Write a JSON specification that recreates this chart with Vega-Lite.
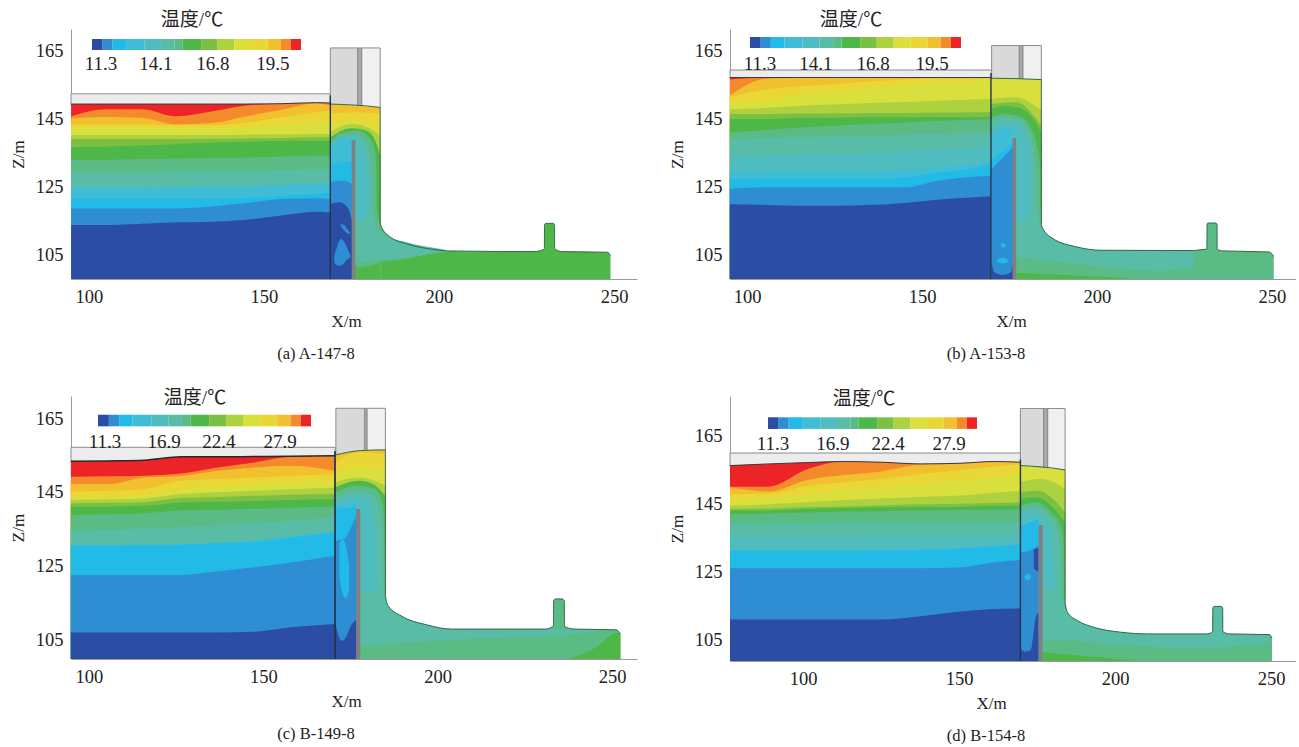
{"$schema":"https://vega.github.io/schema/vega-lite/v6.json","background":"white","padding":{"left":9,"top":10,"right":0,"bottom":0},
"config":{"view":{"stroke":null},"range":{"category":["#2b4da4","#2f8ed3","#22bbe8","#3fbcd6","#4fbcc0","#58bca6","#5abb85","#4db748","#7cc043","#aed140","#d9df3c","#e9d735","#f2bf2e","#f58a2c","#ec2327"]},"axis":{"grid":false,"ticks":false,"domainColor":"#9a9a9a","labelFont":"Liberation Serif","labelFontSize":18.5,"labelColor":"#222222","titleFont":"Liberation Serif","titleFontWeight":"normal","titleFontSize":17,"titleColor":"#222222","labelPadding":8,"titlePadding":8,"labelFlush":false,"labelOverlap":false},"title":{"font":"Liberation Serif","fontSize":16.5,"fontWeight":"normal","color":"#222222"},"text":{"font":"Liberation Serif, Noto Sans CJK SC","fontSize":19,"color":"#222222","dy":1.5},"line":{"strokeWidth":1}},
"datasets":{
"ga":[{"g":"bar","x":94.86,"x2":169,"z":149,"z2":152.4},{"g":"dark","x":168.95,"x2":176.8,"z":148.7,"z2":165.9},{"g":"light","x":177.9,"x2":183.2,"z":148.2,"z2":165.9},{"g":"strip","x":176.8,"x2":177.9,"z":148.5,"z2":165.9}],
"pa":[{"g":"pier","x":175.05,"x2":176.1,"z":97.94,"z2":138.8},{"g":"wall","x":168.75,"x2":169.15,"z":97.94,"z2":152}],
"ca":[{"l":"t01","x":100.86,"x2":103.9,"z":165.29,"z2":168.53},{"l":"t02","x":103.9,"x2":106.77,"z":165.29,"z2":168.53},{"l":"t03","x":106.77,"x2":110.59,"z":165.29,"z2":168.53},{"l":"t04","x":110.59,"x2":115.79,"z":165.29,"z2":168.53},{"l":"t05","x":115.79,"x2":120.56,"z":165.29,"z2":168.53},{"l":"t06","x":120.56,"x2":124.39,"z":165.29,"z2":168.53},{"l":"t07","x":124.39,"x2":126.77,"z":165.29,"z2":168.53},{"l":"t08","x":126.77,"x2":132.03,"z":165.29,"z2":168.53},{"l":"t09","x":132.03,"x2":136.75,"z":165.29,"z2":168.53},{"l":"t10","x":136.75,"x2":141.52,"z":165.29,"z2":168.53},{"l":"t11","x":141.52,"x2":146.3,"z":165.29,"z2":168.53},{"l":"t12","x":146.3,"x2":151.08,"z":165.29,"z2":168.53},{"l":"t13","x":151.08,"x2":154.84,"z":165.29,"z2":168.53},{"l":"t14","x":154.84,"x2":157.7,"z":165.29,"z2":168.53},{"l":"t15","x":157.7,"x2":160.57,"z":165.29,"z2":168.53}],
"la":[{"t":"11.3","x":103.43,"z":161.76},{"t":"14.1","x":119.14,"z":161.76},{"t":"16.8","x":135.43,"z":161.76},{"t":"19.5","x":152.57,"z":161.76},{"t":"温度/℃","x":129.43,"z":174.7}],
"ra":[
{"x":94.9,"t15":149.4,"t14":145.8,"t13":145.2,"t12":143.4,"t11":142.5,"t10":140.3,"t09":139.1,"t08":136.7,"t07":133,"t06":129.3,"t05":125.4,"t04":124.4,"t03":121.5,"t02":118.7,"t01":113.8},
{"x":105,"t15":149.4,"t14":147.9,"t13":145.6,"t12":143.4,"t11":142.5,"t10":140.3,"t09":139.1,"t08":136.9,"t07":133,"t06":129.3,"t05":125.4,"t04":124.4,"t03":121.5,"t02":118.7,"t01":113.8},
{"x":115,"t15":149.4,"t14":147.9,"t13":145.4,"t12":143.4,"t11":142.5,"t10":140.3,"t09":139.1,"t08":137.2,"t07":133.2,"t06":129.3,"t05":125.4,"t04":124.4,"t03":121.5,"t02":118.7,"t01":114.2},
{"x":125,"t15":149.4,"t14":145.8,"t13":143.4,"t12":143.2,"t11":142.5,"t10":140.3,"t09":139.1,"t08":137.6,"t07":133.4,"t06":129.4,"t05":125.5,"t04":124.5,"t03":121.5,"t02":118.7,"t01":114.6},
{"x":135,"t15":149.4,"t14":147.2,"t13":143.8,"t12":143.2,"t11":142.5,"t10":140.3,"t09":139.2,"t08":138.1,"t07":133.5,"t06":129.5,"t05":125.6,"t04":124.6,"t03":121.5,"t02":119.3,"t01":114.8},
{"x":145,"t15":149.4,"t14":149,"t13":145.8,"t12":144,"t11":142.5,"t10":140.4,"t09":139.3,"t08":138.3,"t07":133.7,"t06":129.7,"t05":125.7,"t04":124.8,"t03":121.7,"t02":120.3,"t01":115.4},
{"x":155,"t15":149.5,"t14":149.5,"t13":147.7,"t12":145.5,"t11":143,"t10":140.5,"t09":139.4,"t08":138.6,"t07":134,"t06":130,"t05":125.9,"t04":125.2,"t03":122.3,"t02":121.5,"t01":116.6},
{"x":165,"t15":149.8,"t14":149.8,"t13":149.6,"t12":147,"t11":143.8,"t10":140.6,"t09":139.6,"t08":138.6,"t07":134.2,"t06":130.2,"t05":126.1,"t04":125.7,"t03":123,"t02":121.7,"t01":117.7},
{"x":169,"t15":149.7,"t14":149.7,"t13":148.9,"t12":147.5,"t11":144,"t10":140.6,"t09":139.6,"t08":138.6,"t07":134.2,"t06":130.3,"t05":126.2,"t04":125.9,"t03":123.4,"t02":121.5,"t01":117.5}],
"ta":[
{"r":1,"l":"t13","x":168.95,"z":149.4,"z2":97.95},{"r":1,"l":"t13","x":183.2,"z":148.4,"z2":97.95},
{"r":2,"l":"t12","x":168.95,"z":146.5,"z2":97.95},{"r":2,"l":"t12","x":175.8,"z":147,"z2":97.95},{"r":2,"l":"t12","x":183.2,"z":146.5,"z2":97.95},
{"r":3,"l":"t11","x":168.95,"z":143.5,"z2":97.95},{"r":3,"l":"t11","x":175.8,"z":144.5,"z2":97.95},{"r":3,"l":"t11","x":183.2,"z":141.6,"z2":97.95},
{"r":4,"l":"t10","x":168.95,"z":141.1,"z2":97.95},{"r":4,"l":"t10","x":175,"z":143.5,"z2":97.95},{"r":4,"l":"t10","x":179.6,"z":142.5,"z2":97.95},{"r":4,"l":"t10","x":183.2,"z":140.1,"z2":97.95},
{"r":5,"l":"t08","x":168.95,"z":139.6,"z2":97.95},{"r":5,"l":"t08","x":175,"z":142.3,"z2":97.95},{"r":5,"l":"t08","x":179.2,"z":141.6,"z2":97.95},{"r":5,"l":"t08","x":182,"z":138.1,"z2":97.95},{"r":5,"l":"t08","x":183.2,"z":134.2,"z2":97.95},
{"r":6,"l":"t08","x":183.2,"z":115.1,"z2":97.95},{"r":6,"l":"t08","x":183.4,"z":113.6,"z2":97.95},{"r":6,"l":"t08","x":185.8,"z":110.5,"z2":97.95},{"r":6,"l":"t08","x":191,"z":108.2,"z2":97.95},{"r":6,"l":"t08","x":198.7,"z":106.6,"z2":97.95},{"r":6,"l":"t08","x":202.5,"z":106.2,"z2":97.95},{"r":6,"l":"t08","x":227.2,"z":106,"z2":97.95},{"r":6,"l":"t08","x":229.9,"z":106.6,"z2":97.95},{"r":6,"l":"t08","x":230.1,"z":106.8,"z2":97.95},{"r":6,"l":"t08","x":230.15,"z":114,"z2":97.95},{"r":6,"l":"t08","x":230.6,"z":114.3,"z2":97.95},{"r":6,"l":"t08","x":232.6,"z":114.3,"z2":97.95},{"r":6,"l":"t08","x":233,"z":114,"z2":97.95},{"r":6,"l":"t08","x":233.05,"z":106.8,"z2":97.95},{"r":6,"l":"t08","x":235.3,"z":106,"z2":97.95},{"r":6,"l":"t08","x":248.2,"z":105.8,"z2":97.95},{"r":6,"l":"t08","x":249,"z":104.8,"z2":97.95},
{"r":7,"l":"t07","x":168.95,"z":138.6,"z2":101.4},{"r":7,"l":"t07","x":172.5,"z":141.1,"z2":101.4},{"r":7,"l":"t07","x":176.8,"z":141.6,"z2":101.4},{"r":7,"l":"t07","x":179.6,"z":140.1,"z2":101.8},{"r":7,"l":"t07","x":181.7,"z":135.7,"z2":102.2},{"r":7,"l":"t07","x":182.1,"z":130.3,"z2":102.4},{"r":7,"l":"t07","x":182.3,"z":118.5,"z2":102.5},{"r":7,"l":"t07","x":183.2,"z":114.1,"z2":102.8},{"r":7,"l":"t07","x":185.8,"z":110.5,"z2":103.2},{"r":7,"l":"t07","x":191,"z":108.2,"z2":104},{"r":7,"l":"t07","x":198.7,"z":106.6,"z2":105.5},{"r":7,"l":"t07","x":203.4,"z":106.1,"z2":106},
{"r":8,"l":"t06","x":168.95,"z":137.6,"z2":102.8},{"r":8,"l":"t06","x":172.5,"z":140.3,"z2":102.8},{"r":8,"l":"t06","x":176.3,"z":140.6,"z2":102.8},{"r":8,"l":"t06","x":178.7,"z":139.1,"z2":102.9},{"r":8,"l":"t06","x":180.1,"z":135.2,"z2":103},{"r":8,"l":"t06","x":180.9,"z":129.3,"z2":103.1},{"r":8,"l":"t06","x":181.1,"z":120.5,"z2":103.1},{"r":8,"l":"t06","x":182,"z":113.6,"z2":103.2},{"r":8,"l":"t06","x":184.4,"z":110.7,"z2":103.5},{"r":8,"l":"t06","x":191,"z":108.7,"z2":104.3},{"r":8,"l":"t06","x":201.5,"z":106.6,"z2":106.4},
{"r":9,"l":"t05","x":168.95,"z":137.2,"z2":97.95},{"r":9,"l":"t05","x":172.5,"z":139.6,"z2":97.95},{"r":9,"l":"t05","x":175.8,"z":139.9,"z2":97.95},{"r":9,"l":"t05","x":176.2,"z":139.9,"z2":115},{"r":9,"l":"t05","x":177.7,"z":138.1,"z2":115},{"r":9,"l":"t05","x":179.1,"z":134.2,"z2":116},{"r":9,"l":"t05","x":180.1,"z":127.4,"z2":118},{"r":9,"l":"t05","x":180.3,"z":121.5,"z2":120},
{"r":10,"l":"t04","x":168.95,"z":136.7,"z2":97.95},{"r":10,"l":"t04","x":172.5,"z":139.1,"z2":97.95},{"r":10,"l":"t04","x":175.8,"z":138.6,"z2":97.95},
{"r":11,"l":"t03","x":168.95,"z":131.3,"z2":97.95},{"r":11,"l":"t03","x":175.8,"z":132.8,"z2":97.95},
{"r":12,"l":"t02","x":168.95,"z":126.4,"z2":97.95},{"r":12,"l":"t02","x":172.5,"z":126.9,"z2":97.95},{"r":12,"l":"t02","x":175.8,"z":125.4,"z2":97.95},
{"r":13,"l":"t01","x":168.95,"z":120,"z2":97.95},{"r":13,"l":"t01","x":171.5,"z":120.5,"z2":97.95},{"r":13,"l":"t01","x":173.9,"z":119,"z2":97.95},{"r":13,"l":"t01","x":175,"z":115.6,"z2":97.95},{"r":13,"l":"t01","x":175.8,"z":112,"z2":97.95},
{"r":14,"l":"t02","x":171.8,"z":114.1,"z2":113.9},{"r":14,"l":"t02","x":172.8,"z":113.9,"z2":112.3},{"r":14,"l":"t02","x":173.8,"z":112.6,"z2":111.4},{"r":14,"l":"t02","x":174.6,"z":111.6,"z2":111.2},
{"r":15,"l":"t02","x":170.1,"z":104.8,"z2":102.8},{"r":15,"l":"t02","x":171,"z":107.7,"z2":101.9},{"r":15,"l":"t02","x":172,"z":109.7,"z2":101.9},{"r":15,"l":"t02","x":173,"z":108.7,"z2":102.8},{"r":15,"l":"t02","x":173.9,"z":106.8,"z2":103.8},{"r":15,"l":"t02","x":174.7,"z":104.8,"z2":104.3}],
"gb":[{"g":"bar","x":95.14,"x2":170,"z":157,"z2":159.4},{"g":"dark","x":169.9,"x2":177.8,"z":156.6,"z2":166.6},{"g":"light","x":178.8,"x2":184.1,"z":156.4,"z2":166.6},{"g":"strip","x":177.8,"x2":178.8,"z":156.5,"z2":166.6}],
"pb":[{"g":"pier","x":175.9,"x2":176.9,"z":97.94,"z2":139.4},{"g":"wall","x":169.5,"x2":169.9,"z":97.94,"z2":158.5}],
"cb":[{"l":"t01","x":100.85,"x2":103.92,"z":165.88,"z2":169.12},{"l":"t02","x":103.92,"x2":106.82,"z":165.88,"z2":169.12},{"l":"t03","x":106.82,"x2":110.68,"z":165.88,"z2":169.12},{"l":"t04","x":110.68,"x2":115.92,"z":165.88,"z2":169.12},{"l":"t05","x":115.92,"x2":120.74,"z":165.88,"z2":169.12},{"l":"t06","x":120.74,"x2":124.6,"z":165.88,"z2":169.12},{"l":"t07","x":124.6,"x2":127.02,"z":165.88,"z2":169.12},{"l":"t08","x":127.02,"x2":132.32,"z":165.88,"z2":169.12},{"l":"t09","x":132.32,"x2":137.08,"z":165.88,"z2":169.12},{"l":"t10","x":137.08,"x2":141.91,"z":165.88,"z2":169.12},{"l":"t11","x":141.91,"x2":146.73,"z":165.88,"z2":169.12},{"l":"t12","x":146.73,"x2":151.55,"z":165.88,"z2":169.12},{"l":"t13","x":151.55,"x2":155.35,"z":165.88,"z2":169.12},{"l":"t14","x":155.35,"x2":158.25,"z":165.88,"z2":169.12},{"l":"t15","x":158.25,"x2":161.14,"z":165.88,"z2":169.12}],
"lb":[{"t":"11.3","x":103.71,"z":161.76},{"t":"14.1","x":119.71,"z":161.76},{"t":"16.8","x":136,"z":161.76},{"t":"19.5","x":152.86,"z":161.76},{"t":"温度/℃","x":129.71,"z":174.7}],
"rb":[
{"x":95.1,"t15":157.2,"t14":156.6,"t13":151.9,"t12":151.4,"t11":149.9,"t10":147.9,"t09":146.5,"t08":145,"t07":141.1,"t06":139.1,"t05":134.2,"t04":129.3,"t03":127.4,"t02":124.4,"t01":119.9},
{"x":105,"t15":157.2,"t14":157.2,"t13":156.8,"t12":153.6,"t11":150.4,"t10":148.2,"t09":146.5,"t08":145,"t07":141.8,"t06":139.4,"t05":134.4,"t04":129.4,"t03":127.4,"t02":124.9,"t01":119.7},
{"x":115,"t15":157.2,"t14":157.2,"t13":157.2,"t12":154.6,"t11":151.9,"t10":148.9,"t09":146.6,"t08":145.4,"t07":142.5,"t06":139.6,"t05":134.6,"t04":129.5,"t03":127.4,"t02":124.9,"t01":119.5},
{"x":125,"t15":157.2,"t14":157.2,"t13":157.2,"t12":155.3,"t11":153,"t10":149.3,"t09":146.7,"t08":145.4,"t07":143,"t06":139.9,"t05":134.8,"t04":129.6,"t03":127.4,"t02":124.9,"t01":119.5},
{"x":135,"t15":157.2,"t14":157.2,"t13":157.2,"t12":156,"t11":154,"t10":149.7,"t09":146.8,"t08":145.5,"t07":143.5,"t06":140.1,"t05":135,"t04":129.7,"t03":127.4,"t02":124.9,"t01":119.7},
{"x":145,"t15":157.2,"t14":157.2,"t13":157.2,"t12":156.6,"t11":155,"t10":150,"t09":146.8,"t08":145.5,"t07":144,"t06":140.4,"t05":135.4,"t04":130,"t03":127.8,"t02":124.9,"t01":120.3},
{"x":155,"t15":157.2,"t14":157.2,"t13":157.2,"t12":157.1,"t11":155.8,"t10":150.4,"t09":146.9,"t08":145.5,"t07":144.5,"t06":140.7,"t05":136,"t04":130.8,"t03":129.3,"t02":126.9,"t01":121.3},
{"x":165,"t15":157.2,"t14":157.2,"t13":157.2,"t12":157.2,"t11":156.1,"t10":150.7,"t09":147,"t08":145.5,"t07":144.8,"t06":141,"t05":136.8,"t04":131.8,"t03":130.5,"t02":128,"t01":122},
{"x":169.7,"t15":157.2,"t14":157.2,"t13":157.2,"t12":157.2,"t11":156.3,"t10":150.9,"t09":147,"t08":145.5,"t07":145,"t06":141.1,"t05":137.2,"t04":132.3,"t03":131.8,"t02":128.3,"t01":122.3}],
"tb":[
{"r":1,"l":"t11","x":169.71,"z":157,"z2":97.95},{"r":1,"l":"t11","x":184.09,"z":156.6,"z2":97.95},
{"r":2,"l":"t10","x":169.71,"z":150.9,"z2":97.95},{"r":2,"l":"t10","x":176.85,"z":151.4,"z2":97.95},{"r":2,"l":"t10","x":184.09,"z":147.5,"z2":97.95},
{"r":3,"l":"t09","x":169.71,"z":149.4,"z2":97.95},{"r":3,"l":"t09","x":176.85,"z":149.9,"z2":97.95},{"r":3,"l":"t09","x":184.09,"z":143,"z2":97.95},
{"r":4,"l":"t08","x":169.71,"z":147.9,"z2":97.95},{"r":4,"l":"t08","x":173.5,"z":148.9,"z2":97.95},{"r":4,"l":"t08","x":177.3,"z":148.4,"z2":97.95},{"r":4,"l":"t08","x":181.1,"z":146,"z2":97.95},{"r":4,"l":"t08","x":184.09,"z":141.1,"z2":97.95},
{"r":5,"l":"t07","x":169.71,"z":145.5,"z2":97.95},{"r":5,"l":"t07","x":173.5,"z":146.5,"z2":97.95},{"r":5,"l":"t07","x":177.3,"z":146,"z2":97.95},{"r":5,"l":"t07","x":180.7,"z":143,"z2":97.95},{"r":5,"l":"t07","x":182.6,"z":138.1,"z2":97.95},{"r":5,"l":"t07","x":183.8,"z":130.3,"z2":97.95},{"r":5,"l":"t07","x":183.85,"z":119.5,"z2":97.95},{"r":5,"l":"t07","x":184.1,"z":115.1,"z2":97.95},{"r":5,"l":"t07","x":184.15,"z":113.6,"z2":97.95},{"r":5,"l":"t07","x":186.85,"z":110.2,"z2":97.95},{"r":5,"l":"t07","x":194.5,"z":107.3,"z2":97.95},{"r":5,"l":"t07","x":201.1,"z":106.4,"z2":97.95},{"r":5,"l":"t07","x":227.8,"z":106.3,"z2":97.95},{"r":5,"l":"t07","x":229.9,"z":106.6,"z2":97.95},{"r":5,"l":"t07","x":231.4,"z":106.7,"z2":97.95},{"r":5,"l":"t07","x":231.45,"z":114.2,"z2":97.95},{"r":5,"l":"t07","x":231.8,"z":114.4,"z2":97.95},{"r":5,"l":"t07","x":234,"z":114.4,"z2":97.95},{"r":5,"l":"t07","x":234.3,"z":113.9,"z2":97.95},{"r":5,"l":"t07","x":234.35,"z":106.7,"z2":97.95},{"r":5,"l":"t07","x":235.9,"z":106.2,"z2":97.95},{"r":5,"l":"t07","x":249.2,"z":105.9,"z2":97.95},{"r":5,"l":"t07","x":250.5,"z":104.6,"z2":97.95},
{"r":6,"l":"t08","x":176.9,"z":99.8,"z2":97.95},{"r":6,"l":"t08","x":208.8,"z":98.2,"z2":97.95},
{"r":7,"l":"t06","x":169.71,"z":144,"z2":104.3},{"r":7,"l":"t06","x":173.5,"z":145.5,"z2":104.3},{"r":7,"l":"t06","x":177.3,"z":145,"z2":104.3},{"r":7,"l":"t06","x":180.2,"z":142.1,"z2":104},{"r":7,"l":"t06","x":181.6,"z":137.2,"z2":103.9},{"r":7,"l":"t06","x":182.6,"z":129.3,"z2":103.8},{"r":7,"l":"t06","x":182.85,"z":118.5,"z2":103.8},{"r":7,"l":"t06","x":184,"z":113.6,"z2":103.7},{"r":7,"l":"t06","x":186.85,"z":110.2,"z2":103.3},{"r":7,"l":"t06","x":194.5,"z":107.3,"z2":102.4},{"r":7,"l":"t06","x":201.1,"z":106.4,"z2":101.4},{"r":7,"l":"t06","x":218.3,"z":106.3,"z2":100.4},{"r":7,"l":"t06","x":227.8,"z":106.3,"z2":101.4},
{"r":8,"l":"t05","x":169.71,"z":142.1,"z2":97.95},{"r":8,"l":"t05","x":173.5,"z":144,"z2":97.95},{"r":8,"l":"t05","x":176.8,"z":143.5,"z2":97.95},{"r":8,"l":"t05","x":176.85,"z":143.5,"z2":115},{"r":8,"l":"t05","x":179.2,"z":141.1,"z2":115},{"r":8,"l":"t05","x":180.7,"z":136.2,"z2":116},{"r":8,"l":"t05","x":181.1,"z":130.3,"z2":117},{"r":8,"l":"t05","x":181.3,"z":119.5,"z2":119},
{"r":9,"l":"t04","x":169.71,"z":139.6,"z2":97.95},{"r":9,"l":"t04","x":173.5,"z":142.1,"z2":97.95},{"r":9,"l":"t04","x":176,"z":142.1,"z2":97.95},
{"r":10,"l":"t03","x":169.9,"z":132.8,"z2":97.95},{"r":10,"l":"t03","x":176,"z":138.1,"z2":97.95},
{"r":11,"l":"t02","x":169.9,"z":130.3,"z2":97.95},{"r":11,"l":"t02","x":176,"z":136.7,"z2":97.95},
{"r":12,"l":"t01","x":169.9,"z":102.8,"z2":97.95},{"r":12,"l":"t01","x":170.7,"z":99.9,"z2":97.95},{"r":12,"l":"t01","x":173,"z":99.1,"z2":97.95},{"r":12,"l":"t01","x":175.4,"z":99.9,"z2":97.95},{"r":12,"l":"t01","x":176,"z":102.8,"z2":97.95},
{"r":13,"l":"t03","x":172.5,"z":108.3,"z2":107.8},{"r":13,"l":"t03","x":173.2,"z":108.6,"z2":107.2},{"r":13,"l":"t03","x":174,"z":108,"z2":107.6},
{"r":14,"l":"t03","x":171.4,"z":103.5,"z2":103},{"r":14,"l":"t03","x":173,"z":104.2,"z2":102.5},{"r":14,"l":"t03","x":174.7,"z":103.5,"z2":103}],
"gc":[{"g":"bar","x":94.84,"x2":170.6,"z":153,"z2":157.1},{"g":"dark","x":170.8,"x2":179,"z":155,"z2":167.7},{"g":"light","x":179.7,"x2":185,"z":156,"z2":167.7},{"g":"strip","x":179,"x2":179.7,"z":155.8,"z2":167.7}],
"pc":[{"g":"pier","x":176.6,"x2":177.8,"z":99.57,"z2":140.3},{"g":"wall","x":170.3,"x2":170.8,"z":99.57,"z2":156}],
"cc":[{"l":"t01","x":102.58,"x2":105.7,"z":162.8,"z2":165.95},{"l":"t02","x":105.7,"x2":108.63,"z":162.8,"z2":165.95},{"l":"t03","x":108.63,"x2":112.54,"z":162.8,"z2":165.95},{"l":"t04","x":112.54,"x2":117.85,"z":162.8,"z2":165.95},{"l":"t05","x":117.85,"x2":122.74,"z":162.8,"z2":165.95},{"l":"t06","x":122.74,"x2":126.65,"z":162.8,"z2":165.95},{"l":"t07","x":126.65,"x2":129.09,"z":162.8,"z2":165.95},{"l":"t08","x":129.09,"x2":134.47,"z":162.8,"z2":165.95},{"l":"t09","x":134.47,"x2":139.3,"z":162.8,"z2":165.95},{"l":"t10","x":139.3,"x2":144.18,"z":162.8,"z2":165.95},{"l":"t11","x":144.18,"x2":149.07,"z":162.8,"z2":165.95},{"l":"t12","x":149.07,"x2":153.96,"z":162.8,"z2":165.95},{"l":"t13","x":153.96,"x2":157.8,"z":162.8,"z2":165.95},{"l":"t14","x":157.8,"x2":160.74,"z":162.8,"z2":165.95},{"l":"t15","x":160.74,"x2":163.67,"z":162.8,"z2":165.95}],
"lc":[{"t":"11.3","x":104.59,"z":159.08},{"t":"16.9","x":121.51,"z":159.08},{"t":"22.4","x":137.28,"z":159.08},{"t":"27.9","x":154.78,"z":159.08},{"t":"温度/℃","x":130.4,"z":171.04}],
"rc":[
{"x":94.8,"t15":153.3,"t14":149.1,"t13":147.1,"t12":145.1,"t11":143.5,"t10":142.8,"t09":141.9,"t08":141,"t07":138.8,"t06":134.4,"t05":130.6,"t04":130.5,"t03":130.4,"t02":122.4,"t01":106.8},
{"x":105.4,"t15":153.4,"t14":149.2,"t13":147.1,"t12":145.3,"t11":143.6,"t10":142.9,"t09":142,"t08":141,"t07":138.9,"t06":134.6,"t05":130.6,"t04":130.5,"t03":130.4,"t02":122.4,"t01":106.8},
{"x":115.9,"t15":153.6,"t14":149.4,"t13":148.9,"t12":145.8,"t11":144,"t10":143.2,"t09":142.2,"t08":141.2,"t07":139.2,"t06":135,"t05":130.7,"t04":130.6,"t03":130.5,"t02":122.4,"t01":106.8},
{"x":126.4,"t15":154.5,"t14":150,"t13":149.3,"t12":148,"t11":145.8,"t10":144.4,"t09":143.3,"t08":142.1,"t07":139.9,"t06":135.5,"t05":130.8,"t04":130.7,"t03":130.6,"t02":122.4,"t01":106.8},
{"x":136.9,"t15":154.5,"t14":151.6,"t13":150.7,"t12":148.5,"t11":146.5,"t10":144.9,"t09":143.6,"t08":142.3,"t07":140.1,"t06":136,"t05":131.2,"t04":131.1,"t03":131,"t02":123.4,"t01":106.8},
{"x":147.4,"t15":154.6,"t14":153,"t13":151.6,"t12":148.9,"t11":147.1,"t10":145.3,"t09":143.9,"t08":142.5,"t07":140.4,"t06":136.5,"t05":132,"t04":131.8,"t03":131.3,"t02":124.5,"t01":107},
{"x":157.9,"t15":154.7,"t14":154.5,"t13":152.1,"t12":149.4,"t11":147.5,"t10":145.7,"t09":144.2,"t08":142.8,"t07":140.7,"t06":137.2,"t05":133,"t04":132.8,"t03":132.5,"t02":125.8,"t01":108.2},
{"x":170.6,"t15":154.8,"t14":154.8,"t13":150.7,"t12":149.8,"t11":148,"t10":146.2,"t09":144.4,"t08":143,"t07":141,"t06":138,"t05":134.4,"t04":134.2,"t03":134,"t02":127.6,"t01":109.1}],
"tc":[
{"r":1,"l":"t13","x":170.55,"z":155,"z2":99.6},{"r":1,"l":"t13","x":177.8,"z":156.2,"z2":99.6},{"r":1,"l":"t13","x":185,"z":156.4,"z2":99.6},
{"r":2,"l":"t12","x":170.55,"z":153,"z2":99.6},{"r":2,"l":"t12","x":177.5,"z":155.7,"z2":99.6},{"r":2,"l":"t12","x":185,"z":155.3,"z2":99.6},
{"r":3,"l":"t11","x":170.55,"z":149.8,"z2":99.6},{"r":3,"l":"t11","x":177.5,"z":151.6,"z2":99.6},{"r":3,"l":"t11","x":185,"z":151.2,"z2":99.6},
{"r":4,"l":"t10","x":170.55,"z":147.6,"z2":99.6},{"r":4,"l":"t10","x":177.5,"z":148.9,"z2":99.6},{"r":4,"l":"t10","x":185,"z":146.7,"z2":99.6},
{"r":5,"l":"t08","x":170.55,"z":146.2,"z2":99.6},{"r":5,"l":"t08","x":177.5,"z":148,"z2":99.6},{"r":5,"l":"t08","x":181.4,"z":147.1,"z2":99.6},{"r":5,"l":"t08","x":185,"z":143.9,"z2":99.6},
{"r":6,"l":"t07","x":170.55,"z":144.9,"z2":99.6},{"r":6,"l":"t07","x":177.5,"z":146.7,"z2":99.6},{"r":6,"l":"t07","x":181.8,"z":145.8,"z2":99.6},{"r":6,"l":"t07","x":184.2,"z":142.1,"z2":99.6},{"r":6,"l":"t07","x":184.7,"z":134,"z2":99.6},{"r":6,"l":"t07","x":185,"z":116.8,"z2":99.6},{"r":6,"l":"t07","x":185.8,"z":114,"z2":99.6},{"r":6,"l":"t07","x":189.5,"z":111.3,"z2":99.6},{"r":6,"l":"t07","x":197.1,"z":108.8,"z2":99.6},{"r":6,"l":"t07","x":203.8,"z":107.7,"z2":99.6},{"r":6,"l":"t07","x":230.6,"z":107.7,"z2":99.6},{"r":6,"l":"t07","x":233,"z":108.4,"z2":99.6},{"r":6,"l":"t07","x":233.2,"z":108.6,"z2":99.6},{"r":6,"l":"t07","x":233.25,"z":115.4,"z2":99.6},{"r":6,"l":"t07","x":233.8,"z":115.9,"z2":99.6},{"r":6,"l":"t07","x":235.7,"z":115.9,"z2":99.6},{"r":6,"l":"t07","x":236.3,"z":115.4,"z2":99.6},{"r":6,"l":"t07","x":236.35,"z":108.4,"z2":99.6},{"r":6,"l":"t07","x":239.2,"z":107.7,"z2":99.6},{"r":6,"l":"t07","x":251.1,"z":107.5,"z2":99.6},{"r":6,"l":"t07","x":252.4,"z":106.4,"z2":99.6},
{"r":7,"l":"t08","x":238.2,"z":99.8,"z2":99.6},{"r":7,"l":"t08","x":245,"z":102.5,"z2":99.6},{"r":7,"l":"t08","x":251.6,"z":106.8,"z2":99.6},{"r":7,"l":"t08","x":252.4,"z":106.4,"z2":99.6},
{"r":8,"l":"t06","x":170.55,"z":143.5,"z2":103.2},{"r":8,"l":"t06","x":177,"z":145.3,"z2":103.2},{"r":8,"l":"t06","x":180.9,"z":144.4,"z2":103.4},{"r":8,"l":"t06","x":183.3,"z":141.2,"z2":103.6},{"r":8,"l":"t06","x":184.2,"z":134,"z2":103.7},{"r":8,"l":"t06","x":184.5,"z":116.8,"z2":103.7},{"r":8,"l":"t06","x":185.8,"z":114,"z2":103.8},{"r":8,"l":"t06","x":189.5,"z":111.3,"z2":104},{"r":8,"l":"t06","x":197.1,"z":108.8,"z2":104.3},{"r":8,"l":"t06","x":203.8,"z":107.7,"z2":104.8},{"r":8,"l":"t06","x":230.6,"z":107.7,"z2":105.8},{"r":8,"l":"t06","x":244.9,"z":107.5,"z2":106.8},
{"r":9,"l":"t05","x":170.55,"z":142.1,"z2":99.6},{"r":9,"l":"t05","x":176.9,"z":144,"z2":99.6},{"r":9,"l":"t05","x":177,"z":144,"z2":118},{"r":9,"l":"t05","x":179.9,"z":143,"z2":118},{"r":9,"l":"t05","x":181.4,"z":139.4,"z2":118},{"r":9,"l":"t05","x":182.3,"z":132.2,"z2":118},{"r":9,"l":"t05","x":182.6,"z":118,"z2":117.9},
{"r":10,"l":"t04","x":170.55,"z":141.2,"z2":99.6},{"r":10,"l":"t04","x":176.8,"z":142.6,"z2":99.6},
{"r":11,"l":"t03","x":170.55,"z":140.3,"z2":99.6},{"r":11,"l":"t03","x":176.8,"z":140.8,"z2":99.6},
{"r":12,"l":"t02","x":170.55,"z":131.7,"z2":99.6},{"r":12,"l":"t02","x":173.2,"z":132.2,"z2":99.6},{"r":12,"l":"t02","x":175.1,"z":135.3,"z2":99.6},{"r":12,"l":"t02","x":176.8,"z":139,"z2":99.6},
{"r":13,"l":"t03","x":171.8,"z":131,"z2":122},{"r":13,"l":"t03","x":172.8,"z":132,"z2":117},{"r":13,"l":"t03","x":173.7,"z":130,"z2":116},{"r":13,"l":"t03","x":174.6,"z":125,"z2":118.5},
{"r":14,"l":"t01","x":170.55,"z":109.5,"z2":99.6},{"r":14,"l":"t01","x":172.5,"z":104.5,"z2":99.6},{"r":14,"l":"t01","x":173.7,"z":105.5,"z2":99.6},{"r":14,"l":"t01","x":175.1,"z":108.6,"z2":99.6},{"r":14,"l":"t01","x":176.8,"z":110.4,"z2":99.6}],
"gd":[{"g":"bar","x":76.6,"x2":169.7,"z":156,"z2":159.9},{"g":"dark","x":169.66,"x2":177.1,"z":155.6,"z2":173},{"g":"light","x":178.4,"x2":184,"z":154.9,"z2":173},{"g":"strip","x":177.1,"x2":178.4,"z":155.1,"z2":173}],
"pd":[{"g":"pier","x":175.5,"x2":176.8,"z":98.75,"z2":138.7},{"g":"wall","x":169.45,"x2":169.9,"z":98.75,"z2":158}],
"cd":[{"l":"t01","x":88.78,"x2":92.2,"z":167,"z2":170.4},{"l":"t02","x":92.2,"x2":95.41,"z":167,"z2":170.4},{"l":"t03","x":95.41,"x2":99.7,"z":167,"z2":170.4},{"l":"t04","x":99.7,"x2":105.53,"z":167,"z2":170.4},{"l":"t05","x":105.53,"x2":110.89,"z":167,"z2":170.4},{"l":"t06","x":110.89,"x2":115.17,"z":167,"z2":170.4},{"l":"t07","x":115.17,"x2":117.85,"z":167,"z2":170.4},{"l":"t08","x":117.85,"x2":123.75,"z":167,"z2":170.4},{"l":"t09","x":123.75,"x2":129.04,"z":167,"z2":170.4},{"l":"t10","x":129.04,"x2":134.4,"z":167,"z2":170.4},{"l":"t11","x":134.4,"x2":139.76,"z":167,"z2":170.4},{"l":"t12","x":139.76,"x2":145.12,"z":167,"z2":170.4},{"l":"t13","x":145.12,"x2":149.34,"z":167,"z2":170.4},{"l":"t14","x":149.34,"x2":152.55,"z":167,"z2":170.4},{"l":"t15","x":152.55,"x2":155.77,"z":167,"z2":170.4}],
"ld":[{"t":"11.3","x":90.38,"z":163.14},{"t":"16.9","x":109.61,"z":163.14},{"t":"22.4","x":127.24,"z":163.14},{"t":"27.9","x":146.79,"z":163.14},{"t":"温度/℃","x":119.55,"z":176.37}],
"rd":[
{"x":76.6,"t15":156.2,"t14":150,"t13":149.8,"t12":147.8,"t11":146.4,"t10":144.4,"t09":143.4,"t08":142.9,"t07":142,"t06":139,"t05":135.1,"t04":131.3,"t03":131.2,"t02":126,"t01":110.9},
{"x":88.9,"t15":156.7,"t14":150,"t13":148.6,"t12":148,"t11":146.7,"t10":144.8,"t09":143.6,"t08":143,"t07":142.1,"t06":139,"t05":135.1,"t04":131.3,"t03":131.2,"t02":126,"t01":110.9},
{"x":101.5,"t15":157.1,"t14":155.2,"t13":152,"t12":150.3,"t11":147.8,"t10":145.5,"t09":144,"t08":143.4,"t07":142.4,"t06":139.1,"t05":135.1,"t04":131.3,"t03":131.2,"t02":126,"t01":110.9},
{"x":113.2,"t15":157.4,"t14":157.4,"t13":153.4,"t12":151.3,"t11":148.8,"t10":146.1,"t09":144.2,"t08":143.7,"t07":142.7,"t06":139.2,"t05":135.1,"t04":131.3,"t03":131.2,"t02":126,"t01":110.9},
{"x":125,"t15":157.2,"t14":157.2,"t13":154.5,"t12":152.3,"t11":149.8,"t10":146.5,"t09":144.5,"t08":143.9,"t07":142.8,"t06":139.2,"t05":135.2,"t04":131.4,"t03":131.3,"t02":126,"t01":110.9},
{"x":137.8,"t15":156.7,"t14":156.7,"t13":156.5,"t12":153.7,"t11":150.8,"t10":147,"t09":144.8,"t08":144,"t07":143,"t06":139.3,"t05":135.2,"t04":131.5,"t03":131.4,"t02":126,"t01":111.9},
{"x":150.6,"t15":156.9,"t14":156.9,"t13":156.9,"t12":154.9,"t11":151.8,"t10":147.4,"t09":145,"t08":144.1,"t07":143.1,"t06":139.4,"t05":135.3,"t04":132,"t03":131.8,"t02":126.3,"t01":113.3},
{"x":161.3,"t15":157.4,"t14":157.4,"t13":157.4,"t12":155.9,"t11":152.8,"t10":148.2,"t09":145.2,"t08":144.3,"t07":143.3,"t06":139.5,"t05":135.4,"t04":132.6,"t03":132.4,"t02":127.8,"t01":114},
{"x":169.7,"t15":157.2,"t14":157.2,"t13":157.2,"t12":156.7,"t11":153.7,"t10":148.8,"t09":145.4,"t08":144.4,"t07":143.4,"t06":139.5,"t05":135.5,"t04":133.2,"t03":133,"t02":128.4,"t01":114.2}],
"td":[
{"r":1,"l":"t11","x":169.66,"z":156.2,"z2":98.75},{"r":1,"l":"t11","x":184,"z":154.9,"z2":98.75},
{"r":2,"l":"t10","x":169.66,"z":151.3,"z2":98.75},{"r":2,"l":"t10","x":176.3,"z":152.3,"z2":98.75},{"r":2,"l":"t10","x":184,"z":149.3,"z2":98.75},
{"r":3,"l":"t09","x":169.66,"z":148.3,"z2":98.75},{"r":3,"l":"t09","x":175.2,"z":148.8,"z2":98.75},{"r":3,"l":"t09","x":184,"z":142.5,"z2":98.75},
{"r":4,"l":"t08","x":169.66,"z":146.4,"z2":98.75},{"r":4,"l":"t08","x":174.7,"z":146.9,"z2":98.75},{"r":4,"l":"t08","x":179.5,"z":144.4,"z2":98.75},{"r":4,"l":"t08","x":184,"z":139.5,"z2":98.75},
{"r":5,"l":"t07","x":169.66,"z":144.4,"z2":98.75},{"r":5,"l":"t07","x":174.7,"z":145.4,"z2":98.75},{"r":5,"l":"t07","x":179.5,"z":142.5,"z2":98.75},{"r":5,"l":"t07","x":182.7,"z":138.5,"z2":98.75},{"r":5,"l":"t07","x":183.5,"z":132.7,"z2":98.75},{"r":5,"l":"t07","x":183.8,"z":117,"z2":98.75},{"r":5,"l":"t07","x":184,"z":116,"z2":98.75},{"r":5,"l":"t07","x":184.8,"z":113,"z2":98.75},{"r":5,"l":"t07","x":188,"z":110.6,"z2":98.75},{"r":5,"l":"t07","x":193.4,"z":108.6,"z2":98.75},{"r":5,"l":"t07","x":201.9,"z":107.2,"z2":98.75},{"r":5,"l":"t07","x":210.5,"z":106.7,"z2":98.75},{"r":5,"l":"t07","x":229.7,"z":106.7,"z2":98.75},{"r":5,"l":"t07","x":231.3,"z":107.4,"z2":98.75},{"r":5,"l":"t07","x":231.35,"z":114.3,"z2":98.75},{"r":5,"l":"t07","x":231.8,"z":114.8,"z2":98.75},{"r":5,"l":"t07","x":234,"z":114.8,"z2":98.75},{"r":5,"l":"t07","x":234.5,"z":114.3,"z2":98.75},{"r":5,"l":"t07","x":234.55,"z":107.4,"z2":98.75},{"r":5,"l":"t07","x":236.6,"z":106.7,"z2":98.75},{"r":5,"l":"t07","x":249.5,"z":106.5,"z2":98.75},{"r":5,"l":"t07","x":250.3,"z":105.4,"z2":98.75},
{"r":6,"l":"t08","x":176.8,"z":101.3,"z2":98.75},{"r":6,"l":"t08","x":193,"z":100,"z2":98.75},{"r":6,"l":"t08","x":207,"z":98.8,"z2":98.75},
{"r":7,"l":"t06","x":169.66,"z":143,"z2":105},{"r":7,"l":"t06","x":174.7,"z":144.2,"z2":105},{"r":7,"l":"t06","x":178.95,"z":141.5,"z2":105},{"r":7,"l":"t06","x":181.6,"z":137.1,"z2":105},{"r":7,"l":"t06","x":182.7,"z":129.7,"z2":105},{"r":7,"l":"t06","x":183.2,"z":117,"z2":105},{"r":7,"l":"t06","x":184.8,"z":113,"z2":105},{"r":7,"l":"t06","x":188,"z":110.6,"z2":104.6},{"r":7,"l":"t06","x":193.4,"z":108.6,"z2":104},{"r":7,"l":"t06","x":201.9,"z":107.2,"z2":103.5},{"r":7,"l":"t06","x":210.5,"z":106.7,"z2":103},{"r":7,"l":"t06","x":229.7,"z":106.7,"z2":102.5},{"r":7,"l":"t06","x":231.3,"z":107.4,"z2":102.6},{"r":7,"l":"t06","x":231.35,"z":114.3,"z2":102.6},{"r":7,"l":"t06","x":231.8,"z":114.8,"z2":102.6},{"r":7,"l":"t06","x":234,"z":114.8,"z2":102.8},{"r":7,"l":"t06","x":234.5,"z":114.3,"z2":102.8},{"r":7,"l":"t06","x":234.55,"z":107.4,"z2":102.8},{"r":7,"l":"t06","x":236.6,"z":106.7,"z2":103},{"r":7,"l":"t06","x":249.5,"z":106.3,"z2":104},
{"r":8,"l":"t05","x":169.66,"z":142,"z2":98.75},{"r":8,"l":"t05","x":174.7,"z":142.9,"z2":98.75},{"r":8,"l":"t05","x":176.9,"z":141,"z2":98.75},{"r":8,"l":"t05","x":177,"z":141,"z2":120},{"r":8,"l":"t05","x":178.4,"z":139.5,"z2":120},{"r":8,"l":"t05","x":180,"z":134.6,"z2":120},{"r":8,"l":"t05","x":180.6,"z":126.8,"z2":120},{"r":8,"l":"t05","x":181.1,"z":120.2,"z2":120},
{"r":9,"l":"t03","x":169.66,"z":138.5,"z2":98.75},{"r":9,"l":"t03","x":175.5,"z":140.5,"z2":98.75},
{"r":10,"l":"t02","x":169.66,"z":130.7,"z2":98.75},{"r":10,"l":"t02","x":172.5,"z":131.2,"z2":98.75},{"r":10,"l":"t02","x":174.7,"z":132.2,"z2":98.75},{"r":10,"l":"t02","x":175.5,"z":132.7,"z2":98.75},
{"r":11,"l":"t01","x":174,"z":131.7,"z2":125.8},{"r":11,"l":"t01","x":175.5,"z":132,"z2":125},
{"r":12,"l":"t03","x":171,"z":123.5,"z2":123},{"r":12,"l":"t03","x":172,"z":124.4,"z2":122.5},{"r":12,"l":"t03","x":173,"z":123.8,"z2":123},
{"r":13,"l":"t01","x":169.9,"z":102.3,"z2":98.75},{"r":13,"l":"t01","x":170.9,"z":101.5,"z2":98.75},{"r":13,"l":"t01","x":173,"z":102,"z2":98.75},{"r":13,"l":"t01","x":173.6,"z":105,"z2":98.75},{"r":13,"l":"t01","x":174.7,"z":112,"z2":98.75},{"r":13,"l":"t01","x":175.5,"z":113,"z2":98.75}]
},
"columns":2,"bounds":"flush","align":"all","spacing":{"row":102,"column":93},
"concat":[
{"width":566,"height":250,"title":{"text":"(a) A-147-8","orient":"bottom","dx":-38,"offset":16},
"encoding":{"x":{"field":"x","type":"quantitative","scale":{"domain":[94.86,256.57],"nice":false,"zero":false},"axis":{"values":[100,150,200,250],"title":"X/m","titleX":275}},"y":{"field":"z","type":"quantitative","stack":null,"scale":{"domain":[97.94,171.47],"nice":false,"zero":false},"axis":{"values":[105,125,145,165],"title":"Z/m"}}},
"layer":[
{"data":{"name":"ga"},"mark":{"type":"rect","stroke":"#8c8c8c","strokeWidth":1},"encoding":{"x2":{"field":"x2"},"y2":{"field":"z2"},"fill":{"field":"g","type":"nominal","scale":{"domain":["bar","dark","strip","light","pier","wall"],"range":["#ececec","#d9d9d9","#a9a9a9","#f0f0f0","#808080","#24324f"]},"legend":null}}},
{"data":{"name":"ra"},"transform":[{"fold":["t15","t14","t13","t12","t11","t10","t09","t08","t07","t06","t05","t04","t03","t02","t01"],"as":["l","z"]}],"mark":{"type":"area","interpolate":"monotone"},"encoding":{"y2":{"datum":97.94},"color":{"field":"l","type":"nominal","legend":null}}},
{"data":{"name":"ra"},"transform":[{"fold":["t15"],"as":["l","z"]}],"mark":{"type":"line","interpolate":"monotone","stroke":"#3a3a3a"}},
{"data":{"name":"ta"},"mark":{"type":"area","interpolate":"monotone"},"encoding":{"y2":{"field":"z2"},"detail":{"field":"r"},"color":{"field":"l","type":"nominal","legend":null}}},
{"data":{"name":"ta"},"transform":[{"filter":"datum.r==1||datum.r==6"}],"mark":{"type":"line","interpolate":"monotone","stroke":"#2f6b45"}},
{"data":{"name":"pa"},"mark":{"type":"rect"},"encoding":{"x2":{"field":"x2"},"y2":{"field":"z2"},"fill":{"field":"g","type":"nominal","scale":{"domain":["bar","dark","strip","light","pier","wall"],"range":["#ececec","#d9d9d9","#a9a9a9","#f0f0f0","#808080","#24324f"]},"legend":null}}},
{"data":{"name":"ca"},"mark":{"type":"rect"},"encoding":{"x2":{"field":"x2"},"y2":{"field":"z2"},"color":{"field":"l","type":"nominal","legend":null}}},
{"data":{"name":"la"},"mark":{"type":"text"},"encoding":{"text":{"field":"t"}}}]},
{"width":566,"height":250,"title":{"text":"(b) A-153-8","orient":"bottom","dx":-27,"offset":16},
"encoding":{"x":{"field":"x","type":"quantitative","scale":{"domain":[95.14,256.86],"nice":false,"zero":false},"axis":{"values":[100,150,200,250],"title":"X/m","titleX":281}},"y":{"field":"z","type":"quantitative","stack":null,"scale":{"domain":[97.94,171.47],"nice":false,"zero":false},"axis":{"values":[105,125,145,165],"title":"Z/m"}}},
"layer":[
{"data":{"name":"gb"},"mark":{"type":"rect","stroke":"#8c8c8c","strokeWidth":1},"encoding":{"x2":{"field":"x2"},"y2":{"field":"z2"},"fill":{"field":"g","type":"nominal","scale":{"domain":["bar","dark","strip","light","pier","wall"],"range":["#ececec","#d9d9d9","#a9a9a9","#f0f0f0","#808080","#24324f"]},"legend":null}}},
{"data":{"name":"rb"},"transform":[{"fold":["t15","t14","t13","t12","t11","t10","t09","t08","t07","t06","t05","t04","t03","t02","t01"],"as":["l","z"]}],"mark":{"type":"area","interpolate":"monotone"},"encoding":{"y2":{"datum":97.94},"color":{"field":"l","type":"nominal","legend":null}}},
{"data":{"name":"rb"},"transform":[{"fold":["t15"],"as":["l","z"]}],"mark":{"type":"line","interpolate":"monotone","stroke":"#3a3a3a"}},
{"data":{"name":"tb"},"mark":{"type":"area","interpolate":"monotone"},"encoding":{"y2":{"field":"z2"},"detail":{"field":"r"},"color":{"field":"l","type":"nominal","legend":null}}},
{"data":{"name":"tb"},"transform":[{"filter":"datum.r==1||(datum.r==5&&datum.x>=184)"}],"mark":{"type":"line","interpolate":"monotone","stroke":"#2f6b45"}},
{"data":{"name":"pb"},"mark":{"type":"rect"},"encoding":{"x2":{"field":"x2"},"y2":{"field":"z2"},"fill":{"field":"g","type":"nominal","scale":{"domain":["bar","dark","strip","light","pier","wall"],"range":["#ececec","#d9d9d9","#a9a9a9","#f0f0f0","#808080","#24324f"]},"legend":null}}},
{"data":{"name":"cb"},"mark":{"type":"rect"},"encoding":{"x2":{"field":"x2"},"y2":{"field":"z2"},"color":{"field":"l","type":"nominal","legend":null}}},
{"data":{"name":"lb"},"mark":{"type":"text"},"encoding":{"text":{"field":"t"}}}]},
{"width":566,"height":263,"title":{"text":"(c) B-149-8","orient":"bottom","dx":-38,"offset":16},
"encoding":{"x":{"field":"x","type":"quantitative","scale":{"domain":[94.84,257.15],"nice":false,"zero":false},"axis":{"values":[100,150,200,250],"title":"X/m","titleX":275}},"y":{"field":"z","type":"quantitative","stack":null,"scale":{"domain":[99.57,171.04],"nice":false,"zero":false},"axis":{"values":[105,125,145,165],"title":"Z/m"}}},
"layer":[
{"data":{"name":"gc"},"mark":{"type":"rect","stroke":"#8c8c8c","strokeWidth":1},"encoding":{"x2":{"field":"x2"},"y2":{"field":"z2"},"fill":{"field":"g","type":"nominal","scale":{"domain":["bar","dark","strip","light","pier","wall"],"range":["#ececec","#d9d9d9","#a9a9a9","#f0f0f0","#808080","#24324f"]},"legend":null}}},
{"data":{"name":"rc"},"transform":[{"fold":["t15","t14","t13","t12","t11","t10","t09","t08","t07","t06","t05","t04","t03","t02","t01"],"as":["l","z"]}],"mark":{"type":"area","interpolate":"monotone"},"encoding":{"y2":{"datum":99.57},"color":{"field":"l","type":"nominal","legend":null}}},
{"data":{"name":"rc"},"transform":[{"fold":["t15"],"as":["l","z"]}],"mark":{"type":"line","interpolate":"monotone","stroke":"#2a2a2a","strokeWidth":1.5}},
{"data":{"name":"tc"},"mark":{"type":"area","interpolate":"monotone"},"encoding":{"y2":{"field":"z2"},"detail":{"field":"r"},"color":{"field":"l","type":"nominal","legend":null}}},
{"data":{"name":"tc"},"transform":[{"filter":"datum.r==1||(datum.r==6&&datum.x>=185)"}],"mark":{"type":"line","interpolate":"monotone","stroke":"#2f6b45"}},
{"data":{"name":"pc"},"mark":{"type":"rect"},"encoding":{"x2":{"field":"x2"},"y2":{"field":"z2"},"fill":{"field":"g","type":"nominal","scale":{"domain":["bar","dark","strip","light","pier","wall"],"range":["#ececec","#d9d9d9","#a9a9a9","#f0f0f0","#808080","#24324f"]},"legend":null}}},
{"data":{"name":"cc"},"mark":{"type":"rect"},"encoding":{"x2":{"field":"x2"},"y2":{"field":"z2"},"color":{"field":"l","type":"nominal","legend":null}}},
{"data":{"name":"lc"},"mark":{"type":"text"},"encoding":{"text":{"field":"t"}}}]},
{"width":566,"height":265,"title":{"text":"(d) B-154-8","orient":"bottom","dx":-27,"offset":16},
"encoding":{"x":{"field":"x","type":"quantitative","scale":{"domain":[76.6,258],"nice":false,"zero":false},"axis":{"values":[100,150,200,250],"title":"X/m","titleX":261}},"y":{"field":"z","type":"quantitative","stack":null,"scale":{"domain":[98.73,176.67],"nice":false,"zero":false},"axis":{"values":[105,125,145,165],"title":"Z/m"}}},
"layer":[
{"data":{"name":"gd"},"mark":{"type":"rect","stroke":"#8c8c8c","strokeWidth":1},"encoding":{"x2":{"field":"x2"},"y2":{"field":"z2"},"fill":{"field":"g","type":"nominal","scale":{"domain":["bar","dark","strip","light","pier","wall"],"range":["#ececec","#d9d9d9","#a9a9a9","#f0f0f0","#808080","#24324f"]},"legend":null}}},
{"data":{"name":"rd"},"transform":[{"fold":["t15","t14","t13","t12","t11","t10","t09","t08","t07","t06","t05","t04","t03","t02","t01"],"as":["l","z"]}],"mark":{"type":"area","interpolate":"monotone"},"encoding":{"y2":{"datum":98.73},"color":{"field":"l","type":"nominal","legend":null}}},
{"data":{"name":"rd"},"transform":[{"fold":["t15"],"as":["l","z"]}],"mark":{"type":"line","interpolate":"monotone","stroke":"#3a3a3a"}},
{"data":{"name":"td"},"mark":{"type":"area","interpolate":"monotone"},"encoding":{"y2":{"field":"z2"},"detail":{"field":"r"},"color":{"field":"l","type":"nominal","legend":null}}},
{"data":{"name":"td"},"transform":[{"filter":"datum.r==1||(datum.r==5&&datum.x>=184)"}],"mark":{"type":"line","interpolate":"monotone","stroke":"#2f6b45"}},
{"data":{"name":"pd"},"mark":{"type":"rect"},"encoding":{"x2":{"field":"x2"},"y2":{"field":"z2"},"fill":{"field":"g","type":"nominal","scale":{"domain":["bar","dark","strip","light","pier","wall"],"range":["#ececec","#d9d9d9","#a9a9a9","#f0f0f0","#808080","#24324f"]},"legend":null}}},
{"data":{"name":"cd"},"mark":{"type":"rect"},"encoding":{"x2":{"field":"x2"},"y2":{"field":"z2"},"color":{"field":"l","type":"nominal","legend":null}}},
{"data":{"name":"ld"},"mark":{"type":"text"},"encoding":{"text":{"field":"t"}}}]}
]}
